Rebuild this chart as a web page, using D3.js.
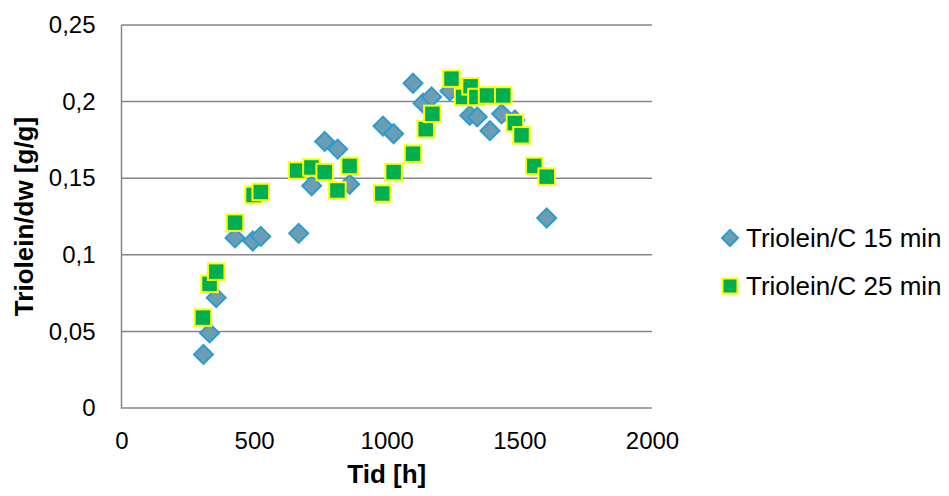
<!DOCTYPE html>
<html>
<head>
<meta charset="utf-8">
<script src="https://cdn.jsdelivr.net/npm/d3@7"></script>
<style>
  html, body { margin: 0; padding: 0; background: #ffffff; }
  svg { display: block; font-family: "Liberation Sans", Arial, sans-serif; }
</style>
</head>
<body>
<svg id="chart" width="949" height="496"></svg>
<script>
// Sampling times [h] and triolein content [g/g dw] per series
const time15 = [309, 332, 357, 428, 495, 525, 668, 717, 766, 815, 860, 986, 1026, 1099, 1137, 1169, 1238, 1313, 1341, 1389, 1433, 1483, 1603];
const triolein15 = [0.035, 0.049, 0.072, 0.111, 0.109, 0.112, 0.114, 0.145, 0.174, 0.169, 0.146, 0.184, 0.179, 0.212, 0.199, 0.203, 0.207, 0.191, 0.190, 0.181, 0.192, 0.188, 0.124];

const time25 = [307, 332, 357, 428, 498, 525, 662, 716, 766, 814, 860, 983, 1026, 1099, 1147, 1172, 1244, 1288, 1316, 1338, 1378, 1439, 1483, 1508, 1556, 1603];
const triolein25 = [0.059, 0.081, 0.089, 0.121, 0.139, 0.141, 0.155, 0.157, 0.154, 0.142, 0.158, 0.140, 0.154, 0.166, 0.182, 0.192, 0.215, 0.203, 0.210, 0.203, 0.204, 0.204, 0.186, 0.178, 0.158, 0.151];

const seriesNames = ["Triolein/C 15 min", "Triolein/C 25 min"];
const xTicks = [0, 500, 1000, 1500, 2000];
const yTicks = [0, 0.05, 0.1, 0.15, 0.2, 0.25];
const xTitle = "Tid [h]";
const yTitle = "Triolein/dw [g/g]";

const svg = d3.select("#chart");
const plot = { left: 121.5, right: 652, top: 25, bottom: 408 };

const x = d3.scaleLinear().domain([0, 2000]).range([plot.left, plot.right]);
const y = d3.scaleLinear().domain([0, 0.25]).range([plot.bottom, plot.top]);
const fmt = v => String(+v.toFixed(2)).replace(".", ",");

const gridColor = "#868686";

// horizontal gridlines
svg.append("g")
  .selectAll("line")
  .data(yTicks.filter(d => d > 0))
  .join("line")
  .attr("x1", plot.left).attr("x2", plot.right)
  .attr("y1", d => y(d)).attr("y2", d => y(d))
  .attr("stroke", gridColor).attr("stroke-width", 1.5);

// y axis (labels only, line drawn separately)
const yAxis = svg.append("g")
  .attr("transform", `translate(${plot.left},0)`)
  .call(d3.axisLeft(y).tickValues(yTicks).tickFormat(fmt).tickSize(0).tickPadding(26));
yAxis.select(".domain").remove();
yAxis.selectAll("text")
  .attr("font-size", 24).attr("fill", "#000")
  .attr("font-family", "'Liberation Sans', Arial, sans-serif");

// x axis
const xAxis = svg.append("g")
  .attr("transform", `translate(0,${plot.bottom})`)
  .call(d3.axisBottom(x).tickValues(xTicks).tickFormat(d3.format("d")).tickSize(0).tickPadding(24));
xAxis.select(".domain").remove();
xAxis.selectAll("text")
  .attr("font-size", 24).attr("fill", "#000")
  .attr("font-family", "'Liberation Sans', Arial, sans-serif");

// axis lines
svg.append("path")
  .attr("d", `M${plot.left},${plot.top}V${plot.bottom}H${plot.right}`)
  .attr("fill", "none").attr("stroke", gridColor).attr("stroke-width", 1.5);

// markers
const diamond = r => `M0,${-r}L${r},0L0,${r}L${-r},0Z`;

svg.append("g")
  .selectAll("path")
  .data(time15.map((t, i) => [t, triolein15[i]]))
  .join("path")
  .attr("d", diamond(9.5))
  .attr("transform", d => `translate(${x(d[0])},${y(d[1])})`)
  .attr("fill", "#6b9db3")
  .attr("stroke", "#2e9bd0")
  .attr("stroke-width", 2);

const sq = 16.5;
svg.append("g")
  .selectAll("rect")
  .data(time25.map((t, i) => [t, triolein25[i]]))
  .join("rect")
  .attr("x", d => x(d[0]) - sq / 2)
  .attr("y", d => y(d[1]) - sq / 2)
  .attr("width", sq).attr("height", sq)
  .attr("fill", "#00b050")
  .attr("stroke", "#ffff00")
  .attr("stroke-width", 2);

// axis titles
svg.append("text")
  .attr("x", (plot.left + plot.right) / 2).attr("y", 483)
  .attr("text-anchor", "middle")
  .attr("font-size", 26).attr("font-weight", "bold")
  .text(xTitle);

svg.append("text")
  .attr("transform", `translate(33,${(plot.top + plot.bottom) / 2}) rotate(-90)`)
  .attr("text-anchor", "middle")
  .attr("font-size", 26).attr("font-weight", "bold")
  .text(yTitle);

// legend
const legend = svg.append("g").attr("transform", "translate(730,0)");
const rows = [238, 286];
legend.append("path")
  .attr("d", diamond(8))
  .attr("transform", `translate(0,${rows[0]})`)
  .attr("fill", "#6b9db3").attr("stroke", "#2e9bd0").attr("stroke-width", 2);
legend.append("rect")
  .attr("x", -7.5).attr("y", rows[1] - 7.5).attr("width", 15).attr("height", 15)
  .attr("fill", "#00b050").attr("stroke", "#ffff00").attr("stroke-width", 2);
legend.selectAll("text.item")
  .data(seriesNames)
  .join("text")
  .attr("class", "item")
  .attr("x", 16).attr("y", (d, i) => rows[i] + 9)
  .attr("font-size", 26)
  .text(d => d);
</script>
</body>
</html>
